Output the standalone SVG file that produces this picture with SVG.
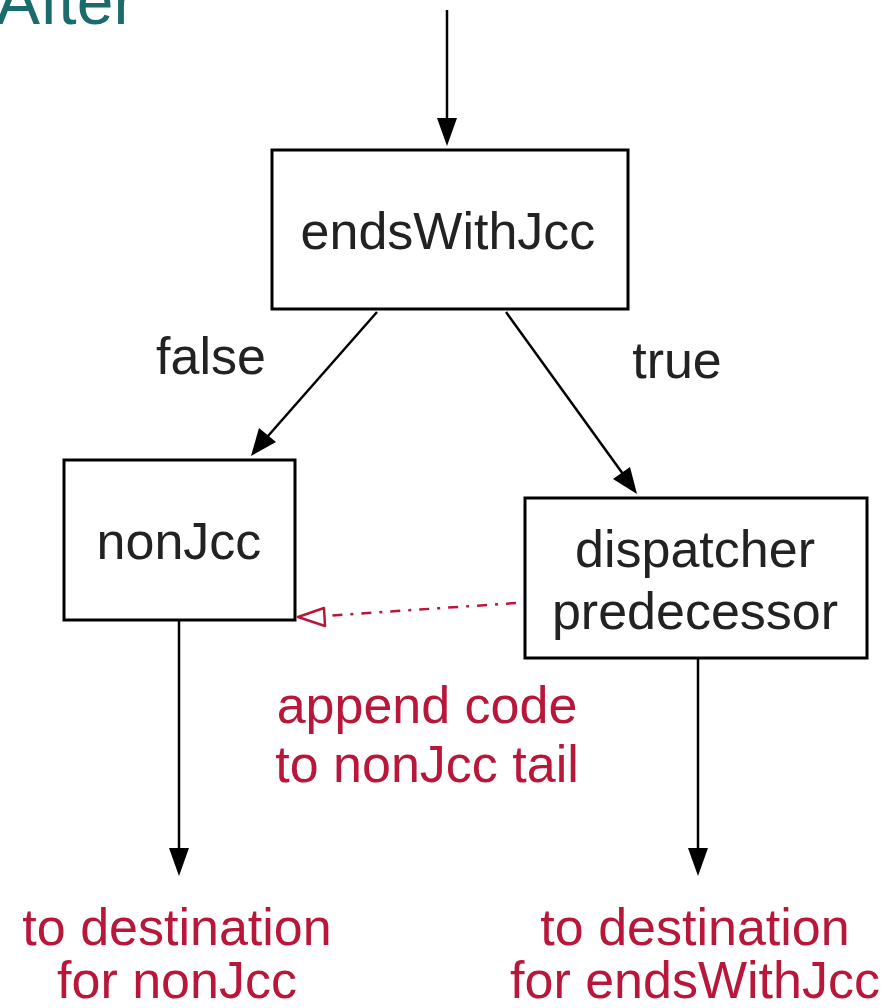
<svg xmlns="http://www.w3.org/2000/svg" width="890" height="1008" viewBox="0 0 890 1008">
<defs>
<style>
.box{fill:#fff;stroke:#000;stroke-width:3}
.t{font-family:"Liberation Sans",Arial,sans-serif;font-size:52px;fill:#222;text-anchor:middle}
.r{font-family:"Liberation Sans",Arial,sans-serif;font-size:52px;fill:#b8173a;text-anchor:middle}
.ln{stroke:#000;stroke-width:2.5;fill:none}
</style>
</defs>
<rect width="890" height="1008" fill="#fff"/>
<text x="-4" y="24" font-family="Liberation Sans,Arial,sans-serif" font-size="66" fill="#1a6b6b">After</text>
<g id="connectors">
<line class="ln" x1="447" y1="10" x2="447" y2="120"/>
<path d="M437,118 L447,146 L457,118 z" fill="#000"/>
<line class="ln" x1="377" y1="312" x2="268" y2="436"/>
<path d="M259,428 L251,456 L276,442 z" fill="#000"/>
<line class="ln" x1="506" y1="312" x2="623" y2="474"/>
<path d="M613,479 L637,494 L630,467 z" fill="#000"/>
<line class="ln" x1="179" y1="620" x2="179" y2="848"/>
<path d="M169,848 L179,876 L189,848 z" fill="#000"/>
<line class="ln" x1="698" y1="658" x2="698" y2="848"/>
<path d="M688,848 L698,876 L708,848 z" fill="#000"/>
<line x1="516" y1="603" x2="324" y2="616" stroke="#b8173a" stroke-width="2.5" stroke-dasharray="10,8,3,8"/>
<path d="M298,617 L324,608 L325,626 z" fill="#fff" stroke="#b8173a" stroke-width="2.5" stroke-linejoin="round"/>
</g>
<g id="endsWithJcc">
<rect class="box" x="272" y="150" width="356" height="159"/>
<text class="t" x="448" y="249">endsWithJcc</text>
</g>
<g id="nonJcc">
<rect class="box" x="64" y="460" width="231" height="160"/>
<text class="t" x="179" y="559">nonJcc</text>
</g>
<g id="dispatcher">
<rect class="box" x="525" y="498" width="342" height="160"/>
<text class="t" x="695" y="567">dispatcher</text>
<text class="t" x="695" y="629">predecessor</text>
</g>
<g id="labels">
<text class="t" x="211" y="374">false</text>
<text class="t" x="677" y="378">true</text>
<text class="r" x="427" y="723">append code</text>
<text class="r" x="427" y="782">to nonJcc tail</text>
<text class="r" x="177" y="945">to destination</text>
<text class="r" x="177" y="998">for nonJcc</text>
<text class="r" x="695" y="945">to destination</text>
<text class="r" x="695" y="998">for endsWithJcc</text>
</g>
</svg>
